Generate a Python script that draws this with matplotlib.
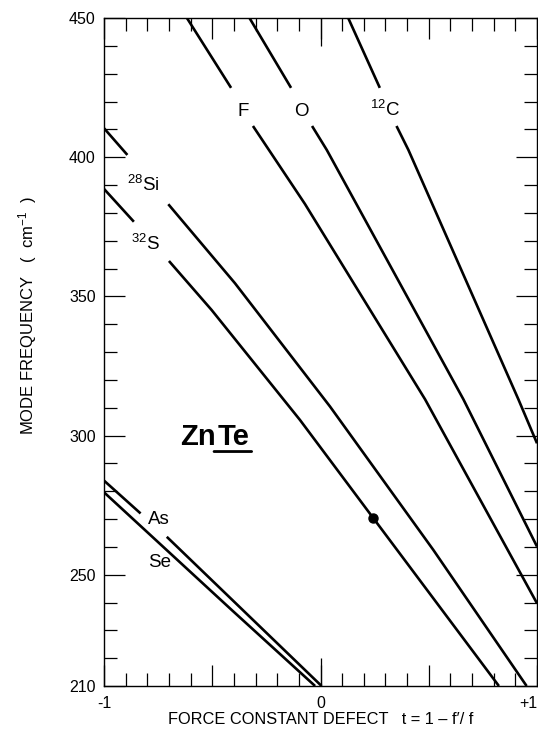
import numpy as np
import matplotlib
matplotlib.use('Agg')
import matplotlib.pyplot as plt
from matplotlib.ticker import MultipleLocator, FixedLocator, NullFormatter

plt.rcParams['font.family'] = ['Liberation Sans', 'DejaVu Sans']
plt.rcParams['mathtext.fontset'] = 'custom'
plt.rcParams['mathtext.rm'] = 'Liberation Sans'
plt.rcParams['mathtext.it'] = 'Liberation Sans:italic'
plt.rcParams['mathtext.bf'] = 'Liberation Sans:bold'

nan = np.nan
# force constant defect t (x) and local mode frequency in cm^-1 (y); nan = gap for a label
c12_t = [0.128, 0.274, nan, 0.351, 0.406, 0.914, 1.0]
c12_f = [450, 424.9, nan, 411.2, 402.6, 313.0, 297.2]
o_t = [-0.328, -0.136, nan, -0.039, 0.029, 0.660, 1.0]
o_f = [450, 424.9, nan, 411.2, 402.6, 313.0, 260.1]
f_t = [-0.617, -0.413, nan, -0.312, -0.072, 0.483, 1.0]
f_f = [450, 424.9, nan, 411.2, 383.2, 313.0, 239.7]
si_t = [-1.0, -0.892, nan, -0.703, -0.395, 0.044, 0.521, 0.952]
si_f = [410.4, 400.8, nan, 383.1, 354.7, 310.4, 258.9, 210]
s_t = [-1.0, -0.862, nan, -0.700, -0.503, -0.095, 0.244, 0.824]
s_f = [388.6, 376.8, nan, 362.7, 345.1, 305.6, 270.3, 210]
as_t = [-1.0, -0.831, nan, -0.710, 0.005]
as_f = [283.8, 272.0, nan, 263.6, 210]
se_t = [-1.0, -0.410, -0.025]
se_f = [279.6, 237.3, 210]

# observed point
obs_t = [0.244]
obs_f = [270.3]

# labels: text, t, f (baseline)
line_labels = ['F', 'O', '$^{12}$C', '$^{28}$Si', '$^{32}$S', 'As', 'Se']
label_t = [-0.359, -0.088, 0.298, -0.895, -0.875, -0.795, -0.795]
label_f = [414.8, 414.8, 414.8, 388.0, 366.7, 268.2, 252.7]
label_ha = ['center', 'center', 'center', 'left', 'left', 'left', 'left']

x_ticks = [-1, -0.5, 0, 0.5, 1]
x_ticklabels = ['-1', '', '0', '', '+1']
y_ticks = [210, 250, 300, 350, 400, 450]
y_ticklabels = ['210', '250', '300', '350', '400', '450']

fig = plt.figure(figsize=(5.38, 7.36), dpi=100)
ax = fig.add_axes([104/538, 50/736, 433/538, 668/736])

lw = 1.9
for t, f in [(c12_t, c12_f), (o_t, o_f), (f_t, f_f), (si_t, si_f),
             (s_t, s_f), (as_t, as_f), (se_t, se_f)]:
    ax.plot(t, f, color='black', lw=lw, solid_capstyle='butt')

ax.plot(obs_t, obs_f, 'o', color='black', ms=6.5)

for txt, t, f, ha in zip(line_labels, label_t, label_f, label_ha):
    ax.text(t, f, txt, ha=ha, va='baseline', fontsize=13.5)

# ZnTe with underlined Te
zn = ax.text(-0.648, 296.6, 'Zn', fontsize=21, fontweight='bold', ha='left', va='baseline')
te = ax.annotate('Te', xy=(1, 0), xycoords=zn, xytext=(1.0, 0), textcoords='offset points',
                 fontsize=21, fontweight='bold', ha='left', va='bottom')
ax.annotate('', xy=(1.08, -0.02), xycoords=te, xytext=(-0.1, -0.02), textcoords=te,
            arrowprops=dict(arrowstyle='-', lw=2.0, shrinkA=0, shrinkB=0, color='black'))

ax.set_xlim(-1, 1)
ax.set_ylim(210, 450)

ax.xaxis.set_major_locator(FixedLocator(x_ticks))
ax.set_xticklabels(x_ticklabels)
ax.xaxis.set_minor_locator(MultipleLocator(0.1))
ax.yaxis.set_major_locator(FixedLocator(y_ticks))
ax.set_yticklabels(y_ticklabels)
ax.yaxis.set_minor_locator(MultipleLocator(10))
ax.get_xticklabels()[-1].set_horizontalalignment('right')

ax.tick_params(which='both', direction='in', top=True, right=True, width=0.9, color='black')
ax.tick_params(which='major', length=15, labelsize=11.5)
ax.tick_params(which='minor', length=9.5)
ax.tick_params(axis='x', which='major', pad=7)
ax.tick_params(axis='y', which='major', pad=6)

# longer tick at t = 0 on top and bottom
for loc in ['bottom', 'top']:
    sec = ax.secondary_xaxis(loc)
    sec.set_xticks([0])
    sec.xaxis.set_major_formatter(NullFormatter())
    sec.tick_params(direction='in', length=20, width=0.9)
    sec.spines[loc].set_visible(False)

for sp in ax.spines.values():
    sp.set_linewidth(1.0)

ax.set_xlabel("FORCE CONSTANT DEFECT   t = 1 \u2013 f\u2032/ f", fontsize=11.8, labelpad=1)
ax.set_ylabel("MODE FREQUENCY   (  cm$^{-1}$  )", fontsize=12)
ax.yaxis.set_label_coords(-0.15, 0.555)

fig.savefig('out.png', dpi=100)
